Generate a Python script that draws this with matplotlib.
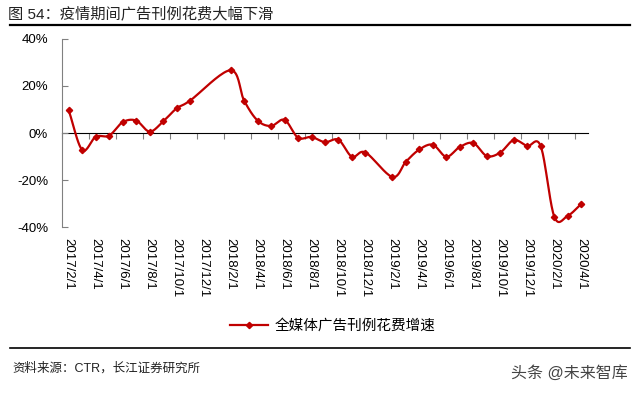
import numpy as np
import matplotlib
matplotlib.use("Agg")
import matplotlib.pyplot as plt
from matplotlib.lines import Line2D

plt.rcParams["font.family"] = ["Liberation Sans", "Noto Sans CJK SC", "DejaVu Sans"]

# ── data ──────────────────────────────────────────────────────────────────
months = [
    "2017/2/1", "2017/3/1", "2017/4/1", "2017/5/1", "2017/6/1", "2017/7/1",
    "2017/8/1", "2017/9/1", "2017/10/1", "2017/11/1", "2017/12/1", "2018/1/1",
    "2018/2/1", "2018/3/1", "2018/4/1", "2018/5/1", "2018/6/1", "2018/7/1",
    "2018/8/1", "2018/9/1", "2018/10/1", "2018/11/1", "2018/12/1", "2019/1/1",
    "2019/2/1", "2019/3/1", "2019/4/1", "2019/5/1", "2019/6/1", "2019/7/1",
    "2019/8/1", "2019/9/1", "2019/10/1", "2019/11/1", "2019/12/1", "2020/1/1",
    "2020/2/1", "2020/3/1", "2020/4/1",
]
# None = month not reported (line joins the neighbours)
ad_growth = [
    9.6, -7.2, -1.6, -1.1, 4.6, 5.3, 0.6, 4.9, 10.5, 13.8, None, None,
    26.7, 13.8, 5.3, 3.0, 5.6, -2.0, -1.7, -3.9, -2.9, -10.1, -8.3, None,
    -18.7, -12.2, -7.0, -5.0, -10.1, -5.9, -4.3, -9.8, -8.3, -3.0, -5.5, -5.7,
    -35.6, -35.2, -30.2,
]
y_ticks = [-40, -20, 0, 20, 40]
series_name = "全媒体广告刊例花费增速"
title = "图 54：疫情期间广告刊例花费大幅下滑"
source = "资料来源：CTR，长江证券研究所"
watermark = "头条 @未来智库"

RED = "#C00000"


def smooth(x, y, n=20):
    """Catmull-Rom spline through the points (Excel-like smoothed line)."""
    x = np.asarray(x, float)
    y = np.asarray(y, float)
    px = np.concatenate([[2 * x[0] - x[1]], x, [2 * x[-1] - x[-2]]])
    py = np.concatenate([[2 * y[0] - y[1]], y, [2 * y[-1] - y[-2]]])
    xs, ys = [], []
    t = np.linspace(0, 1, n, endpoint=False)
    for i in range(1, len(px) - 2):
        for p, out in ((px, xs), (py, ys)):
            p0, p1, p2, p3 = p[i - 1], p[i], p[i + 1], p[i + 2]
            out.append(0.5 * ((2 * p1) + (-p0 + p2) * t
                              + (2 * p0 - 5 * p1 + 4 * p2 - p3) * t ** 2
                              + (-p0 + 3 * p1 - 3 * p2 + p3) * t ** 3))
    xs.append([x[-1]])
    ys.append([y[-1]])
    return np.concatenate(xs), np.concatenate(ys)


fig = plt.figure(figsize=(6.4, 3.96), dpi=100)
ax = fig.add_axes([62 / 640, 1 - 227 / 396, 526 / 640, 188 / 396])

idx = np.arange(len(months))
vals = np.array([np.nan if v is None else v for v in ad_growth])
ok = ~np.isnan(vals)
sx, sy = smooth(idx[ok], vals[ok])
ax.plot(sx, sy, color=RED, lw=1.6, zorder=3)
ax.plot(idx[ok], vals[ok], ls="none", marker="D", ms=3.2, color=RED, zorder=4)

ax.set_xlim(-0.5, len(months) - 0.5)
ax.set_ylim(-40, 40)
ax.set_yticks(y_ticks)
ax.set_yticklabels([f"{v}%" for v in y_ticks], fontsize=9.5)
ax.tick_params(axis="y", direction="in", length=4, color="#808080", pad=10)

# category labels every other month, rotated, below the plot
ax.set_xticks(idx[::2])
ax.set_xticklabels(months[::2], rotation=270, fontsize=9.5, va="top", ha="center")
ax.tick_params(axis="x", length=0, pad=8)

for s in ("top", "right", "bottom"):
    ax.spines[s].set_visible(False)
ax.spines["left"].set_color("#808080")

# zero line with tick marks at category boundaries
zero = ax.secondary_xaxis(0.5)
zero.set_xticks(np.arange(-0.5, len(months), 2))
zero.set_xticklabels([])
zero.tick_params(direction="in", length=4, color="#808080")
zero.spines["bottom"].set_color("#808080")

# title and rules
fig.text(8 / 640, 1 - 14 / 396, title, fontsize=11, color="#222222", va="center")
fig.add_artist(Line2D([10 / 640, 630 / 640], [1 - 25 / 396] * 2,
                      transform=fig.transFigure, color="black", lw=1.6))
fig.add_artist(Line2D([10 / 640, 630 / 640], [1 - 348 / 396] * 2,
                      transform=fig.transFigure, color="black", lw=1.2))

handle = Line2D([], [], color=RED, lw=1.6, marker="D", ms=3.2)
fig.legend([handle], [series_name], loc="center", bbox_to_anchor=(0.52, 1 - 326 / 396),
           frameon=False, fontsize=10.5, handlelength=2.6, handletextpad=0.4)

fig.text(12 / 640, 1 - 368 / 396, source, fontsize=9, color="#222222", va="center")
fig.text(628 / 640, 1 - 373 / 396, watermark, fontsize=11.5, color="#444444",
         va="center", ha="right")

fig.savefig("out.png", dpi=100)
